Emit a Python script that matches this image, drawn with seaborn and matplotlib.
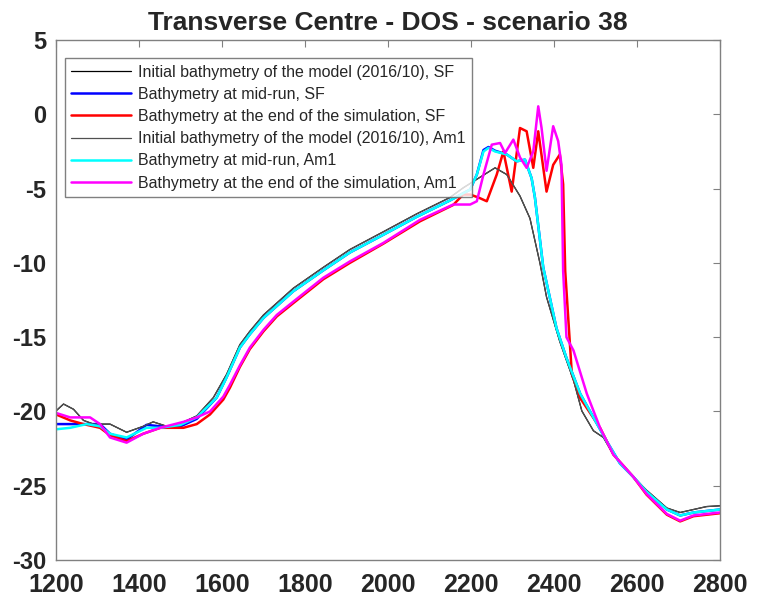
import numpy as np
import pandas as pd
import matplotlib
matplotlib.use("Agg")
import matplotlib.pyplot as plt
import seaborn as sns

# initial bathymetry (SF and Am1 share it)
x_init = [1200, 1218, 1242, 1266, 1290, 1330, 1370, 1410, 1434, 1467, 1500, 1539, 1579, 1611, 1643,
          1667, 1700, 1732, 1772, 1844, 1908, 1989, 2069, 2149, 2181, 2218, 2258, 2286, 2318, 2342,
          2366, 2382, 2414, 2447, 2467, 2495, 2519, 2543, 2591, 2623, 2672, 2704, 2736, 2768, 2800]
y_init = [-19.96, -19.5, -19.85, -20.6, -20.85, -20.85, -21.4, -21.0, -20.7, -21.0, -20.8, -20.3, -19.07, -17.5, -15.5,
          -14.6, -13.5, -12.7, -11.7, -10.3, -9.1, -7.9, -6.7, -5.6, -4.95, -4.3, -3.6, -4.05, -5.5, -7.0,
          -10.0, -12.3, -15.3, -17.9, -19.96, -21.3, -21.75, -22.9, -24.4, -25.3, -26.5, -26.8, -26.6, -26.4, -26.35]

# mid-run
x_mid = [1200, 1234, 1274, 1306, 1330, 1370, 1418, 1451, 1500, 1539, 1587, 1611, 1643, 1667, 1700,
         1732, 1772, 1844, 1908, 1989, 2069, 2149, 2198, 2214, 2230, 2242, 2258, 2286, 2310, 2330,
         2346, 2354, 2374, 2406, 2430, 2463, 2495, 2527, 2559, 2591, 2623, 2672, 2704, 2736, 2800]
y_mid_sf = [-20.85, -20.85, -20.85, -20.85, -21.5, -21.9, -20.9, -21.0, -21.0, -20.5, -19.07, -17.7, -15.7, -14.8, -13.7,
            -12.9, -11.9, -10.5, -9.3, -8.1, -6.9, -5.8, -5.06, -4.05, -2.4, -2.2, -2.45, -2.7, -3.16, -3.05,
            -4.3, -5.6, -10.3, -14.4, -16.4, -18.8, -20.4, -22.0, -23.5, -24.4, -25.4, -26.6, -27.0, -26.8, -26.6]
y_mid_am1 = [-21.2, -21.1, -20.85, -21.0, -21.5, -21.75, -21.1, -21.1, -20.9, -20.4, -19.07, -17.7, -15.7, -14.8, -13.7,
             -12.9, -11.9, -10.5, -9.3, -8.1, -6.9, -5.8, -5.06, -4.05, -2.5, -2.26, -2.5, -2.7, -3.16, -3.05,
             -4.3, -5.6, -10.3, -14.4, -16.4, -18.8, -20.4, -22.0, -23.5, -24.4, -25.4, -26.6, -27.0, -26.8, -26.6]

# end of simulation, SF
x_end_sf = [1200, 1234, 1266, 1306, 1330, 1370, 1410, 1451, 1507, 1539, 1571, 1603, 1619, 1643, 1667,
            1700, 1732, 1772, 1844, 1908, 1989, 2077, 2157, 2181, 2198, 2218, 2238, 2262, 2278, 2298,
            2318, 2334, 2350, 2362, 2382, 2398, 2414, 2422, 2427, 2443, 2463, 2511, 2543, 2591, 2623,
            2672, 2704, 2736, 2800]
y_end_sf = [-20.2, -20.6, -20.85, -21.1, -21.6, -22.0, -21.5, -21.1, -21.1, -20.85, -20.2, -19.2, -18.4, -17.0, -15.8,
            -14.6, -13.6, -12.7, -11.1, -10.0, -8.7, -7.2, -6.1, -5.4, -5.4, -5.6, -5.85, -4.05, -2.5, -5.2,
            -0.92, -1.14, -3.6, -1.14, -5.2, -3.4, -2.7, -4.7, -10.55, -17.5, -19.1, -21.1, -22.9, -24.4, -25.6,
            -26.95, -27.4, -27.05, -26.85]

# end of simulation, Am1
x_end_am1 = [1200, 1234, 1282, 1306, 1330, 1370, 1410, 1451, 1507, 1539, 1571, 1603, 1619, 1643, 1667,
             1700, 1732, 1772, 1844, 1908, 1989, 2077, 2157, 2198, 2214, 2230, 2250, 2270, 2282, 2302,
             2318, 2334, 2350, 2362, 2370, 2382, 2398, 2410, 2418, 2422, 2430, 2447, 2479, 2511, 2543,
             2591, 2623, 2672, 2704, 2736, 2800]
y_end_am1 = [-20.1, -20.4, -20.4, -20.85, -21.75, -22.1, -21.5, -21.1, -20.7, -20.4, -20.0, -19.0, -18.2, -16.9, -15.7,
             -14.5, -13.5, -12.6, -11.0, -9.9, -8.65, -7.1, -6.07, -6.07, -5.85, -4.05, -2.04, -1.93, -2.6, -1.7,
             -2.9, -3.6, -2.5, 0.54, -0.92, -3.8, -0.8, -1.8, -3.4, -10.55, -15.0, -15.9, -18.8, -21.1, -22.9,
             -24.4, -25.55, -26.9, -27.35, -27.0, -26.8]

labels = ["Initial bathymetry of the model (2016/10), SF",
          "Bathymetry at mid-run, SF",
          "Bathymetry at the end of the simulation, SF",
          "Initial bathymetry of the model (2016/10), Am1",
          "Bathymetry at mid-run, Am1",
          "Bathymetry at the end of the simulation, Am1"]

series = [(x_init, y_init, "#000000", 0.9),
          (x_mid, y_mid_sf, "#0000ff", 1.8),
          (x_end_sf, y_end_sf, "#ff0000", 1.8),
          (x_init, y_init, "#505050", 0.9),
          (x_mid, y_mid_am1, "#00ffff", 1.8),
          (x_end_am1, y_end_am1, "#ff00ff", 1.8)]

sns.set_style("white")
plt.rcParams['font.family'] = ['Liberation Sans', 'DejaVu Sans']

fig = plt.figure(figsize=(7.68, 5.98), dpi=100)
ax = fig.add_axes([0.073, 0.0635, 0.8645, 0.8695])

for (xs, ys, c, lw), lab in zip(series, labels):
    df = pd.DataFrame({"x": xs, "y": ys})
    sns.lineplot(data=df, x="x", y="y", color=c, linewidth=lw, label=lab,
                 estimator=None, sort=False, ax=ax)

ax.set_xlim(1200, 2800)
ax.set_ylim(-30, 5)
ax.set_xticks(np.arange(1200, 2801, 200))
ax.set_yticks(np.arange(-30, 6, 5))
ax.set_yticklabels([str(v) for v in range(-30, 6, 5)])
ax.set_xlabel("")
ax.set_ylabel("")
for s in ax.spines.values():
    s.set_color("#808080")
    s.set_linewidth(1.0)
ax.tick_params(direction="in", length=5, color="#808080", top=True, right=True, pad=7)
ax.tick_params(axis="y", labelsize=17)
ax.tick_params(axis="x", labelsize=18, pad=9)
for t in ax.get_xticklabels() + ax.get_yticklabels():
    t.set_fontweight("bold")

ax.set_title("Transverse Centre - DOS - scenario 38", fontsize=19, fontweight="bold", pad=7)

leg = ax.legend(loc="upper left", bbox_to_anchor=(0.0135, 0.965), fontsize=11.5,
                frameon=True, fancybox=False, handlelength=3.7, handletextpad=0.5,
                labelspacing=0.45, borderpad=0.4, borderaxespad=0)
leg.get_frame().set_edgecolor("#606060")
leg.get_frame().set_linewidth(1.0)

fig.savefig("out.png", dpi=100)
